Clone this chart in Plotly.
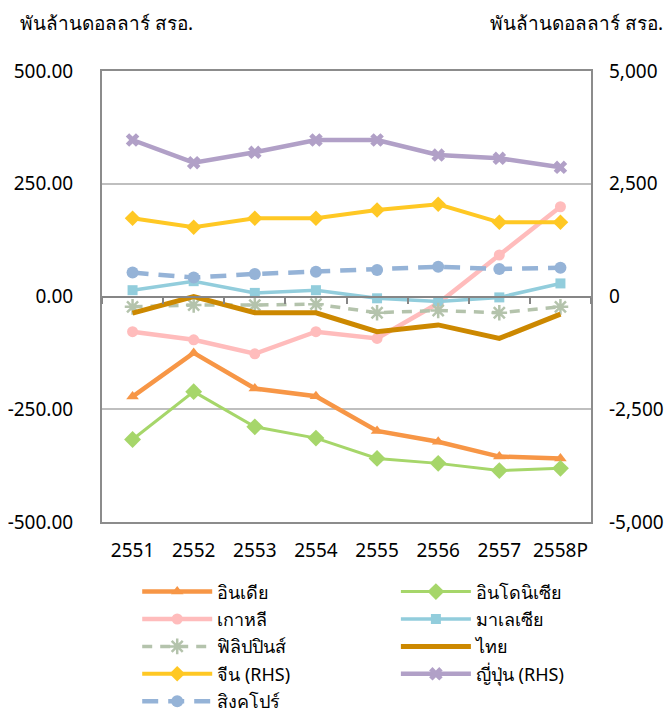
import plotly.graph_objects as go

years = ["2551", "2552", "2553", "2554", "2555", "2556", "2557", "2558P"]

india = [-222, -125, -204, -221, -298, -322, -355, -359]
indonesia = [-317, -211, -289, -314, -359, -370, -386, -381]
korea = [-78, -96, -127, -78, -93, -15, 92, 199]
malaysia = [14, 34, 8, 14, -4, -11, -2, 29]
philippines = [-23, -19, -19, -17, -36, -31, -36, -23]
thailand = [-37, 0, -36, -36, -78, -63, -93, -39]
china_rhs = [1734, 1534, 1734, 1734, 1918, 2044, 1645, 1645]
japan_rhs = [3470, 2967, 3197, 3470, 3470, 3137, 3064, 2865]
singapore = [53, 42, 50, 55, 59, 66, 61, 64]

left_ticks = [-500, -250, 0, 250, 500]
left_text = ["-500.00", "-250.00", "0.00", "250.00", "500.00"]
right_ticks = [-5000, -2500, 0, 2500, 5000]
right_text = ["-5,000", "-2,500", "0", "2,500", "5,000"]
unit_label = "พันล้านดอลลาร์ สรอ."

FONT = "Noto Sans, Tahoma, sans-serif"
xi = list(range(len(years)))

fig = go.Figure()

def add(name, y, color, width, symbol=None, msize=10, dash="solid", yaxis="y",
        mline=0, legend="legend"):
    mode = "lines+markers" if symbol else "lines"
    marker = dict(symbol=symbol, size=msize, color=color,
                  line=dict(color=color, width=mline)) if symbol else None
    fig.add_trace(go.Scatter(x=xi, y=y, name=name, mode=mode, yaxis=yaxis,
                             line=dict(color=color, width=width, dash=dash),
                             marker=marker, legend=legend, legendgroup=name))

add("อินเดีย", india, "#F79646", 4.5, "triangle-up", 11)
add("อินโดนิเซีย", indonesia, "#A6D66A", 3, "diamond", 13, legend="legend2")
add("เกาหลี", korea, "#FFBCBC", 4.5, "circle", 11)
add("มาเลเซีย", malaysia, "#92CDDC", 3.5, "square", 10, legend="legend2")
add("ฟิลิปปินส์", philippines, "#B4C3AC", 3.5, "asterisk-open", 13, dash="10px,8px", mline=2.5)
add("ไทย", thailand, "#CC8800", 5, legend="legend2")
add("จีน (RHS)", china_rhs, "#FFC824", 4, "diamond", 12, yaxis="y2")
add("ญี่ปุ่น (RHS)", japan_rhs, "#B1A0C7", 4.5, "x", 12, yaxis="y2", legend="legend2")
add("สิงคโปร์", singapore, "#95B3D7", 4.5, "circle", 12, dash="16px,10px")

# invisible helper trace for the zero-crossing category axis
fig.add_trace(go.Scatter(x=[xi[0]], y=[0], xaxis="x2", mode="markers",
                         marker=dict(opacity=0), showlegend=False, hoverinfo="skip"))

legend_common = dict(orientation="v", xanchor="left", y=-0.114, yanchor="top",
                     itemwidth=70, font=dict(size=18), tracegroupgap=1,
                     bgcolor="rgba(0,0,0,0)", traceorder="grouped")

fig.update_layout(
    width=664, height=707,
    margin=dict(l=94, r=81, t=63, b=193, autoexpand=False),
    paper_bgcolor="white", plot_bgcolor="white",
    font=dict(family=FONT, size=19, color="#000000"),
    showlegend=True,
    xaxis=dict(range=[-0.5, 7.5], tickvals=xi, ticktext=years,
               showgrid=False, zeroline=False, showline=True, mirror=True,
               linecolor="#8C8C8C", linewidth=2, ticks="",
               ticklabelstandoff=10, tickfont=dict(size=19)),
    xaxis2=dict(range=[-0.5, 7.5], overlaying="x", anchor="free", position=0.5,
                tickvals=[i - 0.5 for i in range(len(years) + 1)],
                showticklabels=False, ticks="outside", ticklen=6, tickwidth=1.5,
                tickcolor="#868686", showline=True, linecolor="#868686", linewidth=2,
                showgrid=False, zeroline=False),
    yaxis=dict(range=[-500, 500], tickvals=left_ticks, ticktext=left_text,
               showgrid=True, gridcolor="#BFBFBF", gridwidth=1.5,
               zeroline=False, showline=True, mirror=True,
               linecolor="#8C8C8C", linewidth=2, ticks="",
               ticklabelstandoff=23, tickfont=dict(size=19)),
    yaxis2=dict(range=[-5000, 5000], tickvals=right_ticks, ticktext=right_text,
                overlaying="y", side="right", showgrid=False, zeroline=False,
                showline=False, ticks="", ticklabelstandoff=17, tickfont=dict(size=19)),
    legend=dict(x=0.072, **legend_common),
    legend2=dict(x=0.601, **legend_common),
    annotations=[
        dict(text=unit_label, xref="paper", yref="paper", x=-0.172, y=1.0,
             xanchor="left", yanchor="bottom", yshift=33, showarrow=False,
             font=dict(size=19)),
        dict(text=unit_label, xref="paper", yref="paper", x=1.151, y=1.0,
             xanchor="right", yanchor="bottom", yshift=33, showarrow=False,
             font=dict(size=19)),
    ],
)

fig.write_html("out.html")
